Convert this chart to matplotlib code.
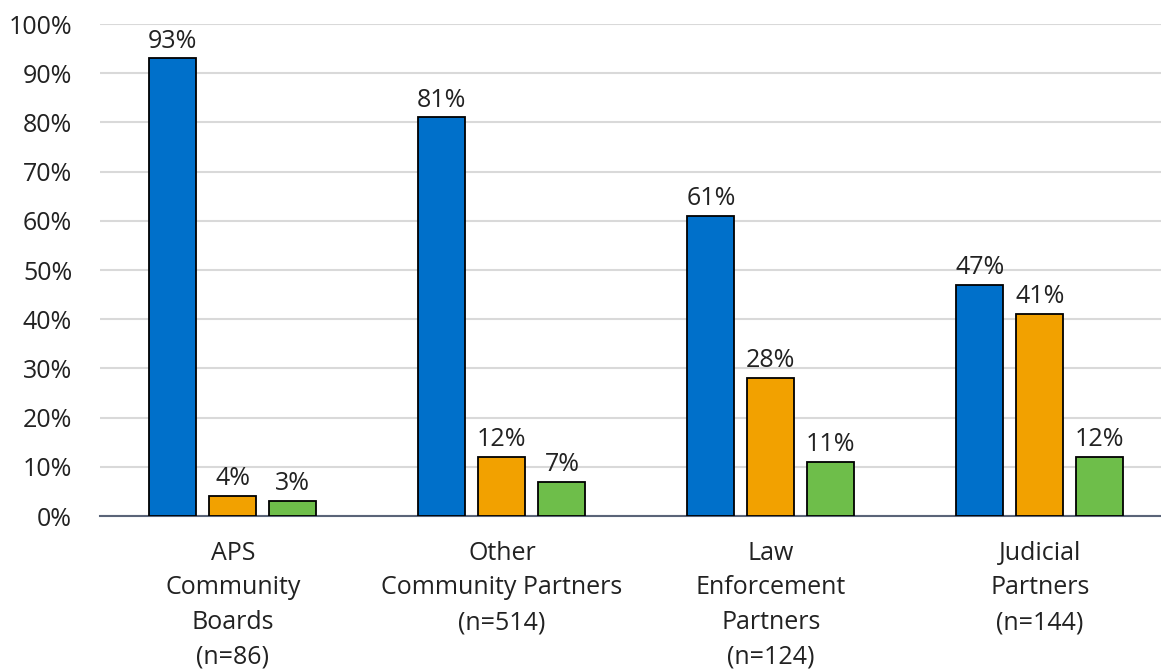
import numpy as np
import matplotlib.pyplot as plt

groups = ['APS\nCommunity\nBoards\n(n=86)',
          'Other\nCommunity Partners\n(n=514)',
          'Law\nEnforcement\nPartners\n(n=124)',
          'Judicial\nPartners\n(n=144)']
blue_vals = [93, 81, 61, 47]
orange_vals = [4, 12, 28, 41]
green_vals = [3, 7, 11, 12]

colors = ['#0070CA', '#F2A100', '#6EBE4A']

plt.rcParams['font.family'] = ['Open Sans', 'DejaVu Sans']

fig = plt.figure(figsize=(11.61, 6.71), dpi=100)
ax = fig.add_axes([100 / 1161, 155 / 671, 1061 / 1161, 492 / 671])

x = np.arange(len(groups))
w = 0.175
off = 0.223
for vals, dx, c in zip([blue_vals, orange_vals, green_vals], [-off, 0, off], colors):
    bars = ax.bar(x + dx, vals, width=w, color=c, edgecolor='black', linewidth=1.3, zorder=3)
    for b, v in zip(bars, vals):
        ax.text(b.get_x() + b.get_width() / 2, v + 1.0, f'{v}%', ha='center', va='bottom',
                fontsize=18, color='#222222')

ax.set_xlim(-0.494, 3.45)
ax.set_ylim(0, 100)
ax.set_yticks(np.arange(0, 101, 10))
ax.set_yticklabels([f'{t}%' for t in range(0, 101, 10)], fontsize=18, color='#222222')
ax.yaxis.grid(True, color='#D9D9D9', linewidth=1.5, zorder=0)
ax.set_axisbelow(True)
ax.tick_params(axis='y', length=0, pad=20)
ax.tick_params(axis='x', length=0, pad=18)
ax.set_xticks(x)
ax.set_xticklabels(groups, fontsize=18, color='#222222', linespacing=1.5, va='top')
for s in ['top', 'right', 'left']:
    ax.spines[s].set_visible(False)
ax.spines['bottom'].set_color('#5A6478')
ax.spines['bottom'].set_linewidth(1.5)

fig.savefig('out.png', dpi=100)
